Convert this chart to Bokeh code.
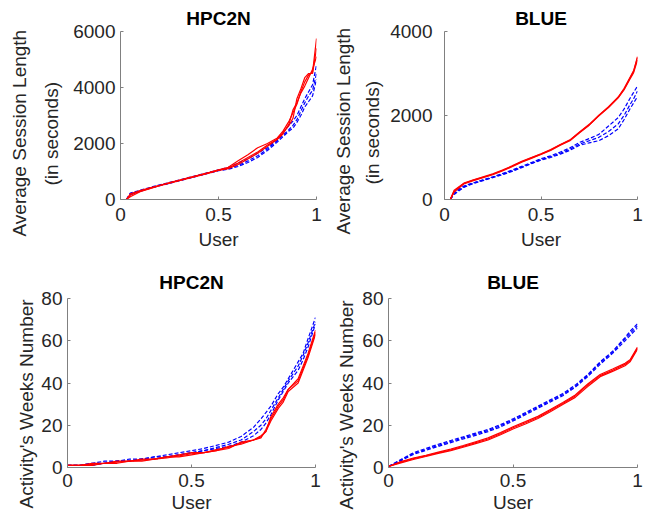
from bokeh.plotting import figure
from bokeh.layouts import row, column
from bokeh.models import Range1d, FixedTicker, Title
from bokeh.embed import file_html
from bokeh.resources import INLINE

# ---------------- data ----------------
x_ticks = [0, 0.5, 1]
x_tick_labels = ["0", "0.5", "1"]

# Panel 1: HPC2N - Average Session Length
x_s1 = [0.03, 0.05, 0.1, 0.15, 0.2, 0.25, 0.3, 0.35, 0.4, 0.45, 0.5, 0.55, 0.6, 0.65,
        0.7, 0.75, 0.8, 0.83, 0.86, 0.88, 0.9, 0.92, 0.94, 0.96, 0.98, 1.0]
red_s1_a = [0, 200, 320, 420, 510, 600, 690, 780, 870, 960, 1060, 1150, 1380, 1600,
            1850, 2000, 2200, 2450, 2800, 3100, 3400, 3850, 4200, 4450, 4550, 5750]
red_s1_b = [0, 150, 300, 400, 500, 590, 680, 770, 860, 950, 1050, 1120, 1300, 1500,
            1700, 1950, 2150, 2400, 2650, 2900, 3600, 3950, 4350, 4500, 4500, 5400]
red_s1_c = [0, 100, 280, 390, 490, 580, 670, 760, 850, 940, 1040, 1100, 1250, 1450,
            1650, 1900, 2150, 2350, 2700, 3200, 3450, 3800, 4050, 4350, 4650, 5100]
blue_s1_a = [0, 230, 330, 430, 520, 610, 700, 790, 880, 970, 1060, 1150, 1300, 1450,
             1650, 1850, 2150, 2400, 2650, 2800, 3000, 3300, 3600, 3850, 4100, 4800]
blue_s1_b = [0, 200, 300, 410, 500, 590, 680, 770, 860, 950, 1040, 1100, 1220, 1380,
             1560, 1800, 2100, 2300, 2500, 2650, 2850, 3150, 3450, 3700, 3900, 4500]
blue_s1_c = [0, 180, 290, 400, 490, 580, 670, 760, 850, 940, 1030, 1080, 1180, 1320,
             1500, 1750, 2050, 2250, 2450, 2550, 2750, 3000, 3300, 3500, 3700, 4300]

# Panel 2: BLUE - Average Session Length
x_s2 = [0.03, 0.05, 0.1, 0.15, 0.2, 0.25, 0.3, 0.35, 0.4, 0.45, 0.5, 0.55, 0.6, 0.65,
        0.7, 0.75, 0.8, 0.85, 0.9, 0.93, 0.96, 0.98, 1.0]
red_s2_a = [0, 200, 380, 460, 530, 600, 690, 790, 900, 990, 1080, 1180, 1300, 1410,
            1600, 1780, 2000, 2200, 2430, 2620, 2880, 3050, 3380]
red_s2_b = [0, 180, 370, 450, 520, 590, 680, 780, 890, 980, 1070, 1170, 1290, 1400,
            1590, 1770, 1990, 2190, 2420, 2610, 2860, 3020, 3320]
red_s2_c = [0, 220, 390, 470, 540, 610, 700, 800, 910, 1000, 1090, 1190, 1310, 1420,
            1610, 1790, 2010, 2210, 2440, 2640, 2900, 3070, 3400]
blue_s2_a = [0, 180, 320, 400, 470, 540, 620, 700, 790, 880, 970, 1040, 1130, 1230,
             1360, 1450, 1550, 1750, 1950, 2150, 2400, 2550, 2700]
blue_s2_b = [0, 150, 300, 390, 460, 530, 600, 680, 770, 860, 950, 1020, 1100, 1200,
             1320, 1400, 1480, 1620, 1800, 2000, 2250, 2400, 2580]
blue_s2_c = [0, 120, 290, 380, 450, 520, 590, 670, 760, 850, 940, 1000, 1080, 1170,
             1290, 1350, 1400, 1520, 1680, 1900, 2150, 2300, 2450]

# Panel 3: HPC2N - Activity's Weeks Number
x_w1 = [0, 0.05, 0.1, 0.15, 0.2, 0.25, 0.3, 0.35, 0.4, 0.45, 0.5, 0.55, 0.6, 0.65,
        0.7, 0.75, 0.78, 0.8, 0.82, 0.85, 0.87, 0.89, 0.93, 0.95, 0.97, 1.0]
red_w1_a = [1, 1, 2, 2, 3, 3, 4, 4, 5, 6, 7, 7, 8, 9,
            12, 13, 15, 17, 24, 30, 33, 37, 42, 48, 54, 65]
red_w1_b = [1, 1, 1, 2, 2, 3, 3, 4, 5, 5, 6, 7, 8, 10,
            11, 13, 14, 18, 23, 29, 32, 37, 41, 47, 53, 64]
red_w1_c = [1, 1, 1.5, 2, 2.5, 3, 3.5, 4, 4.5, 5.5, 6.5, 7, 8.5, 9.5,
            11.5, 13, 14.5, 17, 22, 28, 31, 36, 40, 46, 52, 63]
blue_w1_a = [1, 1, 2, 3, 3, 4, 4, 5, 6, 7, 8, 9, 10.5, 12,
             14.7, 19, 23, 26, 29, 35, 38, 42, 50, 54, 61, 71]
blue_w1_b = [1, 1, 2, 2, 3, 3, 4, 5, 5, 6, 7, 8, 9.5, 11,
             13, 17, 20, 23, 27, 33, 37, 41, 48, 53, 59, 69]
blue_w1_c = [1, 1, 1, 2, 3, 3, 4, 4, 5, 6, 7, 8, 9, 10,
             12, 15, 18, 21, 25, 32, 36, 40, 46, 51, 57, 68]

# Panel 4: BLUE - Activity's Weeks Number
x_w2 = [0, 0.05, 0.1, 0.15, 0.2, 0.25, 0.3, 0.35, 0.4, 0.45, 0.5, 0.55, 0.6, 0.65,
        0.7, 0.75, 0.8, 0.85, 0.9, 0.95, 0.97, 1.0]
red_w2_a = [0.5, 2.5, 4.2, 5.5, 7, 8.3, 10, 11.8, 13.5, 16, 18.8, 21.2, 23.7, 27,
            30.3, 33.8, 39, 43.5, 46, 48.8, 50.5, 56.5]
red_w2_b = [0.5, 2.2, 3.8, 5.2, 6.7, 8, 9.6, 11.3, 13, 15.5, 18.2, 20.6, 23.2, 26.4,
            29.8, 33.2, 38.3, 43, 45.5, 48.2, 50, 56]
red_w2_c = [0.5, 2.8, 4.5, 5.8, 7.3, 8.7, 10.4, 12.2, 14, 16.5, 19.3, 21.7, 24.2, 27.5,
            30.8, 34.3, 39.5, 44, 46.6, 49.3, 51, 57]
blue_w2_a = [0.5, 3.5, 6.6, 8.5, 10.5, 12.3, 14, 15.8, 17.5, 19.8, 22.5, 25.5, 28.5, 31.5,
             34.5, 38.5, 43.5, 49.5, 54.5, 61, 63.5, 67]
blue_w2_b = [0.5, 3.2, 6.2, 8.1, 10, 11.8, 13.5, 15.2, 17, 19.2, 22, 25, 28, 31,
             34, 38, 43, 48.8, 54, 60, 62.5, 66]
blue_w2_c = [0.5, 3.8, 7, 9, 11, 12.8, 14.5, 16.3, 18, 20.3, 23, 26, 29, 32,
             35, 39, 44, 50, 55, 61.5, 64.5, 68]

titles = ["HPC2N", "BLUE", "HPC2N", "BLUE"]
# y-axis label lines, innermost (closest to the axis) first
ylabels = [["(in seconds)", "Average Session Length"],
           ["(in seconds)", "Average Session Length"],
           ["Activity's Weeks Number"],
           ["Activity's Weeks Number"]]
y_maxes = [6000, 4000, 80, 80]
y_ticks = [[0, 2000, 4000, 6000], [0, 2000, 4000], [0, 20, 40, 60, 80], [0, 20, 40, 60, 80]]

panels = [
    (x_s1, [red_s1_a, red_s1_b, red_s1_c], [blue_s1_a, blue_s1_b, blue_s1_c]),
    (x_s2, [red_s2_a, red_s2_b, red_s2_c], [blue_s2_a, blue_s2_b, blue_s2_c]),
    (x_w1, [red_w1_a, red_w1_b, red_w1_c], [blue_w1_a, blue_w1_b, blue_w1_c]),
    (x_w2, [red_w2_a, red_w2_b, red_w2_c], [blue_w2_a, blue_w2_b, blue_w2_c]),
]

# layout: (width, height, border_left, border_right, border_top, border_bottom)
geom = [
    (322, 258, 120, 6, 29, 59),
    (323, 258, 122, 8, 31, 59),
    (322, 261, 67, 7, 40, 52),
    (323, 261, 66, 8, 40, 52),
]
# (title standoff, x label standoff, x axis-label standoff, y tick-label standoff,
#  y label line standoffs, y label line offsets from the frame bottom)
spacing = [
    (6, 8, 5, 5, [18, 0], [14, -37]),
    (6, 8, 5, 12, [10, 2], [15, -35]),
    (12, 6, 2, 5, [4], [-41]),
    (12, 6, 2, 5, [6], [-42]),
]

FONT = "Liberation Sans"
TXT = "#262626"
AX = "#808080"

figs = []
for i in range(4):
    w, h, bl, br, bt, bb = geom[i]
    ts, xls, xas, yls, ylab_so, ylab_off = spacing[i]
    xs, reds, blues = panels[i]
    p = figure(width=w, height=h, output_backend="svg", toolbar_location=None,
               x_range=Range1d(0, 1), y_range=Range1d(0, y_maxes[i]),
               min_border_left=bl, min_border_right=br,
               min_border_top=bt, min_border_bottom=bb)
    p.title.text = titles[i]
    p.title.align = "center"
    p.title.text_font = FONT
    p.title.text_font_size = "19px"
    p.title.text_font_style = "bold"
    p.title.text_color = "black"
    p.title.standoff = ts
    p.outline_line_color = None
    p.grid.visible = False
    p.background_fill_color = "white"
    p.border_fill_color = "white"

    for ys in blues:
        p.line(xs, ys, line_color="#0000ff", line_width=1.2, line_dash="4 2")
    for ys in reds:
        p.line(xs, ys, line_color="#ff0000", line_width=1.2)

    for ax in (p.xaxis[0], p.yaxis[0]):
        ax.axis_line_color = AX
        ax.major_tick_line_color = AX
        ax.major_tick_in = 3
        ax.major_tick_out = 0
        ax.minor_tick_line_color = None
        ax.major_label_text_font = FONT
        ax.major_label_text_font_size = "19px"
        ax.major_label_text_color = TXT
        ax.axis_label_text_font = FONT
        ax.axis_label_text_font_size = "19px"
        ax.axis_label_text_font_style = "normal"
        ax.axis_label_text_color = TXT

    p.xaxis.ticker = FixedTicker(ticks=x_ticks)
    p.xaxis.major_label_overrides = dict(zip(x_ticks, x_tick_labels))
    p.xaxis.axis_label = "User"
    p.xaxis.major_label_standoff = xls
    p.xaxis.axis_label_standoff = xas
    p.yaxis.ticker = FixedTicker(ticks=y_ticks[i])
    p.yaxis.major_label_standoff = yls

    for line_text, so, off in zip(ylabels[i], ylab_so, ylab_off):
        t = Title(text=line_text, align="left", offset=off, standoff=so,
                  text_font=FONT, text_font_size="19px", text_font_style="normal",
                  text_color=TXT)
        p.add_layout(t, "left")
    figs.append(p)

layout = column(row(figs[0], figs[1]), row(figs[2], figs[3]))

open("out.html", "w").write(file_html(layout, INLINE))
